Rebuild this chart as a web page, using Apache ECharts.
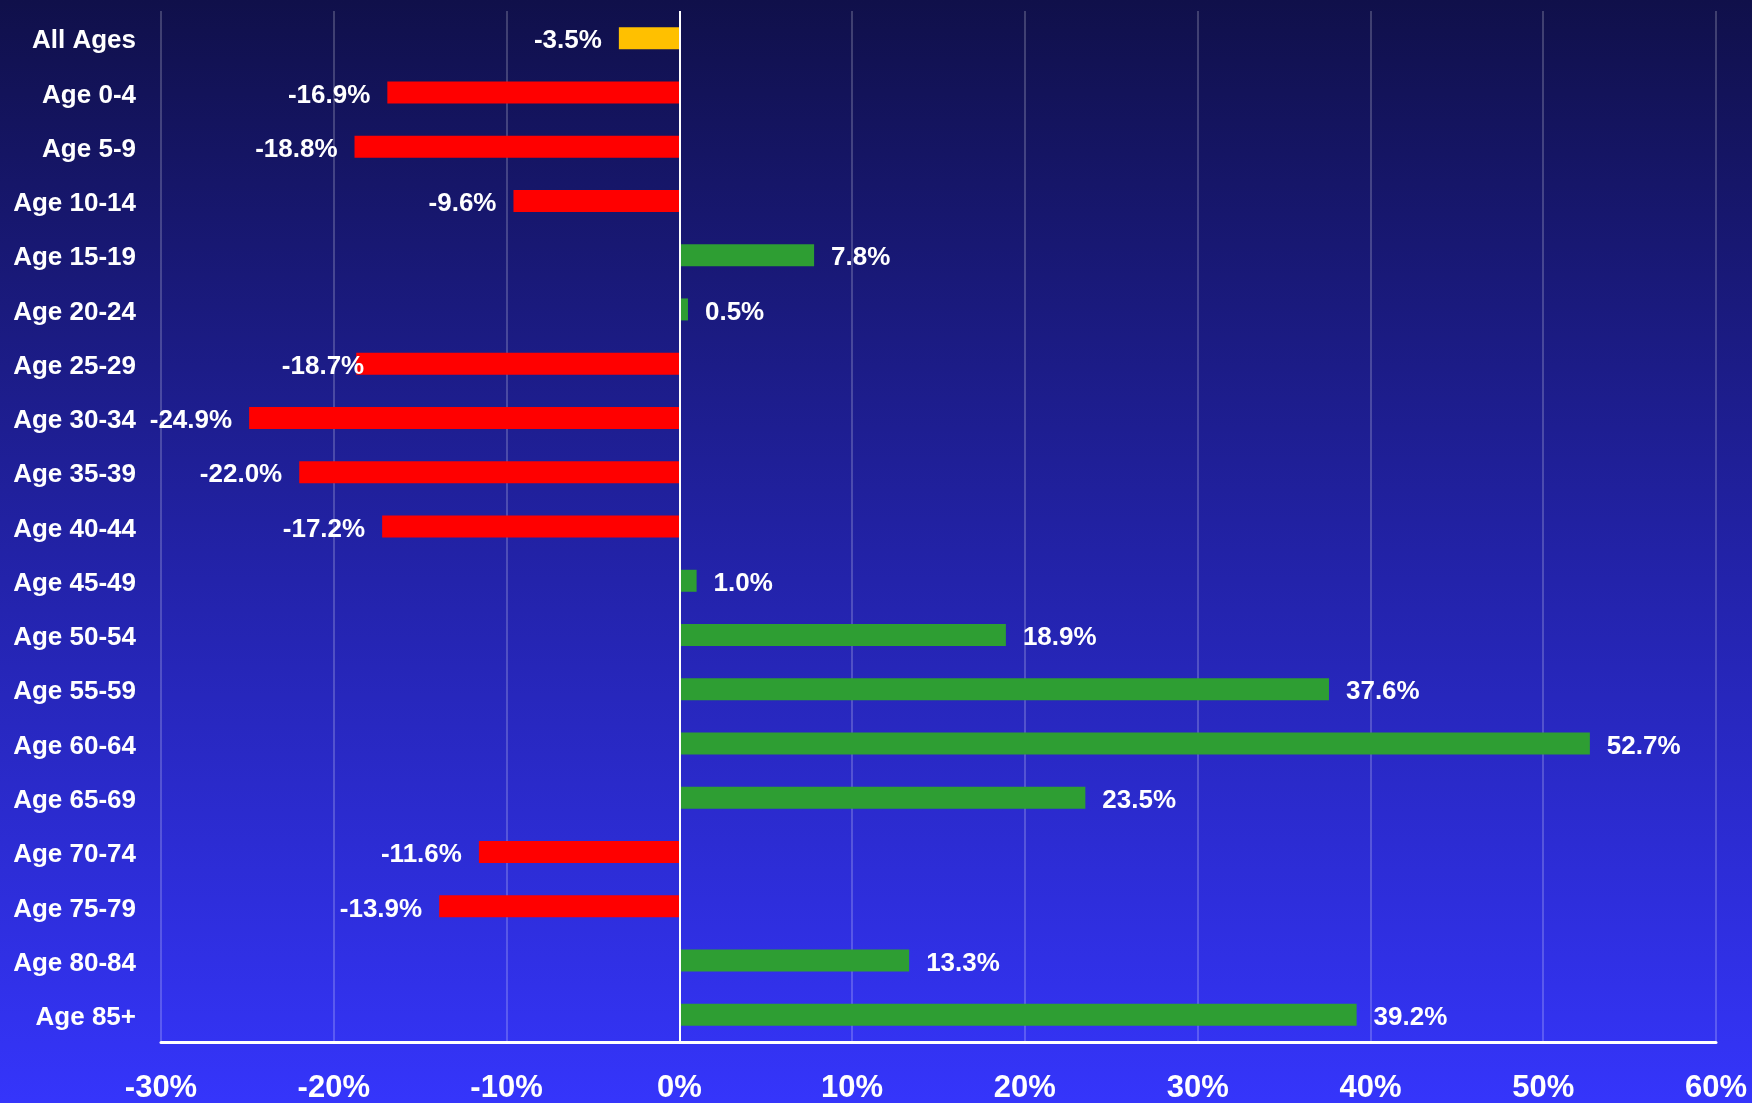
<!DOCTYPE html>
<html>
<head>
<meta charset="utf-8">
<title>Population change by age group</title>
<script src="https://cdn.jsdelivr.net/npm/echarts@6/dist/echarts.min.js"></script>
<style>
  html, body { margin: 0; padding: 0; width: 1752px; height: 1103px; overflow: hidden; }
  #chart { width: 1752px; height: 1103px; }
</style>
</head>
<body>
<div id="chart"></div>
<script>
// Age groups, top to bottom
const ageGroups = [
  'All Ages', 'Age 0-4', 'Age 5-9', 'Age 10-14', 'Age 15-19', 'Age 20-24',
  'Age 25-29', 'Age 30-34', 'Age 35-39', 'Age 40-44', 'Age 45-49', 'Age 50-54',
  'Age 55-59', 'Age 60-64', 'Age 65-69', 'Age 70-74', 'Age 75-79', 'Age 80-84', 'Age 85+'
];

// Percent change for each age group
const changePct = [
  -3.5, -16.9, -18.8, -9.6, 7.8, 0.5,
  -18.7, -24.9, -22.0, -17.2, 1.0, 18.9,
  37.6, 52.7, 23.5, -11.6, -13.9, 13.3, 39.2
];

// Value axis range and step (percent)
const axisMin = -30;
const axisMax = 60;
const axisStep = 10;

const COLOR_TOTAL = '#FFC000';
const COLOR_DOWN = '#FF0000';
const COLOR_UP = '#2E9E33';

const FONT = '"Liberation Sans", Arial, Helvetica, sans-serif';

// Labels sit a touch below the bar centre; the 25-29 label also sits further right
const LABEL_DROP = 3;
const labelNudge = { 'Age 25-29': [25, LABEL_DROP] };

const seriesData = changePct.map((v, i) => {
  const item = {
    value: v,
    itemStyle: { color: i === 0 ? COLOR_TOTAL : (v < 0 ? COLOR_DOWN : COLOR_UP) },
    label: {
      position: v < 0 ? 'left' : 'right',
      offset: labelNudge[ageGroups[i]] || [0, LABEL_DROP]
    }
  };
  return item;
});

const chart = echarts.init(document.getElementById('chart'), null, { renderer: 'canvas' });

chart.setOption({
  animation: false,
  backgroundColor: {
    type: 'linear', x: 0, y: 0, x2: 0, y2: 1,
    colorStops: [
      { offset: 0, color: '#10104A' },
      { offset: 0.5, color: '#2222A6' },
      { offset: 1, color: '#3535FB' }
    ]
  },
  grid: {
    left: 161, right: 36, top: 11, bottom: 61,
    containLabel: false,
    outerBoundsMode: 'none'
  },
  xAxis: {
    type: 'value',
    min: axisMin,
    max: axisMax,
    interval: axisStep,
    axisLine: { show: true, onZero: false, lineStyle: { color: '#FFFFFF', width: 3 } },
    axisTick: { show: false },
    splitLine: { show: true, lineStyle: { color: 'rgba(255,255,255,0.2)', width: 2 } },
    axisLabel: {
      color: '#FFFFFF',
      fontFamily: FONT,
      fontWeight: 'bold',
      fontSize: 31,
      margin: 31,
      formatter: v => v + '%'
    }
  },
  yAxis: {
    type: 'category',
    inverse: true,
    data: ageGroups,
    axisLine: { show: false },
    axisTick: { show: false },
    splitLine: { show: false },
    axisLabel: {
      color: '#FFFFFF',
      fontFamily: FONT,
      fontWeight: 'bold',
      fontSize: 26,
      margin: 25,
      formatter: v => '{n|' + v + '}',
      rich: {
        n: {
          color: '#FFFFFF',
          fontFamily: FONT,
          fontWeight: 'bold',
          fontSize: 26,
          padding: [6, 0, 0, 0]
        }
      }
    }
  },
  series: [{
    type: 'bar',
    data: seriesData,
    barWidth: 22,
    label: {
      show: true,
      distance: 17,
      color: '#FFFFFF',
      fontFamily: FONT,
      fontWeight: 'bold',
      fontSize: 26,
      formatter: p => p.value.toFixed(1) + '%'
    },
    markLine: {
      silent: true,
      symbol: 'none',
      label: { show: false },
      lineStyle: { color: '#FFFFFF', width: 2, type: 'solid' },
      data: [{ xAxis: 0 }]
    },
    z: 3
  }]
});
</script>
</body>
</html>
